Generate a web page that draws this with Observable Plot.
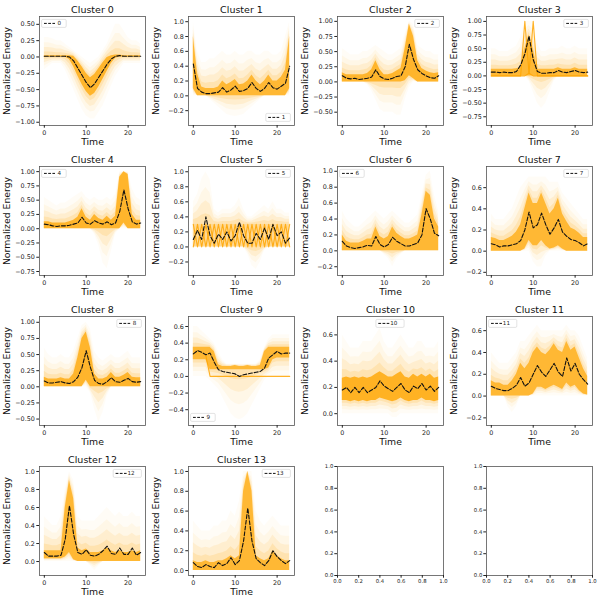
<!DOCTYPE html>
<html><head><meta charset="utf-8">
<script src="https://cdn.jsdelivr.net/npm/d3@7"></script>
<script src="https://cdn.jsdelivr.net/npm/@observablehq/plot@0.6"></script>
<style>
body{margin:0;background:#fff}
#wrap{position:relative;width:600px;height:597px;font-family:"DejaVu Sans",sans-serif}
#wrap svg{position:absolute;overflow:visible}
</style>
</head><body><div id="wrap"></div>
<script>
const times = [0,1,2,3,4,5,6,7,8,9,10,11,12,13,14,15,16,17,18,19,20,21,22,23];
const titles = ["Cluster 0","Cluster 1","Cluster 2","Cluster 3","Cluster 4","Cluster 5","Cluster 6","Cluster 7","Cluster 8","Cluster 9","Cluster 10","Cluster 11","Cluster 12","Cluster 13"];
const legendLabels = ["0","1","2","3","4","5","6","7","8","9","10","11","12","13"];
const legendPos = ["ul","lr","ur","ur","ul","ur","ul","ur","ur","ll","uc","ul","ur","ur"];
const yDomains = [[-1.05,0.62],[-0.4,1.07],[-0.72,1.08],[-0.91,1.09],[-0.82,1.09],[-0.38,1.07],[-0.31,1.06],[-0.23,0.80],[-0.60,1.09],[-0.59,0.72],[-0.09,0.74],[-0.27,0.73],[-0.155,1.055],[-0.05,1.05]];
const yTicks = [
 [-1,-0.75,-0.5,-0.25,0,0.25,0.5],
 [-0.2,0,0.2,0.4,0.6,0.8,1.0],
 [-0.5,-0.25,0,0.25,0.5,0.75,1],
 [-0.75,-0.5,-0.25,0,0.25,0.5,0.75,1],
 [-0.75,-0.5,-0.25,0,0.25,0.5,0.75,1],
 [-0.2,0,0.2,0.4,0.6,0.8,1.0],
 [-0.2,0,0.2,0.4,0.6,0.8,1.0],
 [-0.2,0,0.2,0.4,0.6],
 [-0.5,-0.25,0,0.25,0.5,0.75,1],
 [-0.4,-0.2,0,0.2,0.4,0.6],
 [0,0.2,0.4,0.6],
 [-0.2,0,0.2,0.4,0.6],
 [0,0.2,0.4,0.6,0.8,1.0],
 [0,0.2,0.4,0.6,0.8,1.0]
];
const tickDecimals = [2,1,2,2,2,1,1,1,2,1,1,1,1,1];
const xTicks = [0,10,20];
const emptyTicks = [0,0.2,0.4,0.6,0.8,1.0];

// cluster mean (black dashed)
const means = [
 [0.01,0.01,0.01,0.01,0.01,0.01,0.00,-0.06,-0.17,-0.28,-0.39,-0.47,-0.41,-0.31,-0.21,-0.11,-0.03,0.01,0.02,0.01,0.01,0.01,0.01,0.01],
 [0.43,0.10,0.05,0.03,0.03,0.04,0.05,0.11,0.05,0.08,0.13,0.06,0.07,0.10,0.18,0.10,0.06,0.10,0.18,0.11,0.09,0.13,0.17,0.40],
 [0.10,0.06,0.05,0.06,0.04,0.05,0.06,0.08,0.20,0.09,0.05,0.04,0.06,0.09,0.10,0.25,0.62,0.37,0.20,0.14,0.10,0.07,0.06,0.10],
 [0.07,0.07,0.06,0.07,0.06,0.06,0.08,0.20,0.40,0.73,0.30,0.08,0.05,0.05,0.06,0.06,0.10,0.07,0.06,0.08,0.10,0.07,0.06,0.07],
 [0.08,0.07,0.05,0.04,0.05,0.05,0.06,0.08,0.10,0.20,0.10,0.08,0.14,0.10,0.08,0.12,0.07,0.10,0.30,0.68,0.35,0.12,0.08,0.10],
 [0.10,0.22,0.10,0.40,0.15,0.05,0.17,0.10,0.20,0.08,0.15,0.33,0.15,0.05,0.05,0.18,0.10,0.25,0.10,0.30,0.15,0.20,0.05,0.12],
 [0.12,0.06,0.04,0.03,0.04,0.05,0.07,0.06,0.18,0.08,0.05,0.08,0.17,0.12,0.09,0.06,0.06,0.08,0.10,0.20,0.53,0.40,0.22,0.19],
 [0.07,0.06,0.04,0.05,0.05,0.06,0.07,0.10,0.20,0.37,0.22,0.25,0.36,0.25,0.16,0.22,0.30,0.18,0.14,0.11,0.10,0.08,0.05,0.07],
 [0.09,0.06,0.06,0.07,0.08,0.06,0.05,0.08,0.15,0.30,0.56,0.30,0.10,0.05,0.04,0.08,0.14,0.08,0.07,0.10,0.13,0.08,0.07,0.08],
 [0.27,0.31,0.29,0.26,0.28,0.17,0.08,0.06,0.05,0.04,0.03,0.00,0.02,0.03,0.04,0.05,0.06,0.10,0.22,0.26,0.30,0.27,0.28,0.28],
 [0.18,0.20,0.16,0.20,0.16,0.20,0.16,0.18,0.20,0.25,0.21,0.19,0.17,0.20,0.23,0.18,0.16,0.21,0.19,0.23,0.18,0.21,0.17,0.20],
 [0.09,0.07,0.06,0.05,0.05,0.07,0.10,0.17,0.09,0.12,0.20,0.28,0.22,0.18,0.24,0.30,0.22,0.18,0.35,0.23,0.30,0.20,0.15,0.11],
 [0.10,0.06,0.06,0.06,0.07,0.25,0.62,0.30,0.10,0.08,0.13,0.07,0.06,0.08,0.12,0.17,0.09,0.08,0.15,0.08,0.08,0.15,0.07,0.10],
 [0.08,0.04,0.03,0.06,0.04,0.03,0.08,0.05,0.07,0.13,0.06,0.10,0.30,0.63,0.30,0.12,0.08,0.05,0.10,0.20,0.14,0.10,0.07,0.10]
];
// dense core of member series (upper / lower edge)
const coreHi = [
 [0.02,0.02,0.02,0.02,0.02,0.02,0.02,0.01,-0.06,-0.15,-0.25,-0.32,-0.27,-0.18,-0.09,-0.01,0.02,0.03,0.03,0.02,0.02,0.02,0.02,0.02],
 [0.8,0.3,0.12,0.1,0.1,0.1,0.12,0.2,0.15,0.18,0.22,0.15,0.16,0.2,0.28,0.2,0.15,0.2,0.28,0.2,0.2,0.25,0.35,0.8],
 [0.15,0.12,0.12,0.12,0.12,0.12,0.14,0.2,0.35,0.2,0.12,0.12,0.14,0.18,0.22,0.55,0.95,0.75,0.35,0.22,0.18,0.15,0.14,0.15],
 [0.12,0.12,0.12,0.12,0.12,0.12,0.13,0.15,0.5,0.75,0.5,0.12,0.12,0.12,0.12,0.12,0.15,0.12,0.12,0.12,0.15,0.12,0.12,0.12],
 [0.12,0.12,0.1,0.1,0.1,0.1,0.12,0.15,0.2,0.35,0.2,0.15,0.25,0.18,0.15,0.22,0.15,0.22,0.9,1.0,0.95,0.25,0.15,0.15],
 [0.3,0.3,0.3,0.3,0.3,0.3,0.3,0.3,0.3,0.3,0.3,0.3,0.3,0.3,0.3,0.3,0.3,0.3,0.3,0.3,0.3,0.3,0.3,0.3],
 [0.2,0.12,0.1,0.1,0.1,0.12,0.15,0.15,0.3,0.18,0.15,0.18,0.3,0.22,0.18,0.15,0.15,0.17,0.2,0.45,0.75,0.7,0.4,0.3],
 [0.13,0.12,0.1,0.1,0.12,0.14,0.18,0.25,0.4,0.55,0.45,0.45,0.55,0.45,0.35,0.4,0.5,0.35,0.28,0.22,0.2,0.17,0.13,0.13],
 [0.15,0.12,0.12,0.12,0.14,0.12,0.12,0.2,0.45,0.75,0.85,0.6,0.2,0.12,0.12,0.15,0.22,0.15,0.15,0.18,0.22,0.15,0.14,0.14],
 [0.35,0.35,0.35,0.35,0.35,0.3,0.14,0.12,0.12,0.12,0.13,0.12,0.12,0.13,0.12,0.12,0.13,0.3,0.35,0.35,0.35,0.35,0.35,0.35],
 [0.27,0.28,0.27,0.28,0.27,0.28,0.27,0.28,0.3,0.32,0.3,0.28,0.28,0.3,0.32,0.28,0.27,0.3,0.28,0.3,0.28,0.3,0.27,0.28],
 [0.14,0.12,0.12,0.1,0.1,0.14,0.2,0.3,0.25,0.3,0.4,0.45,0.4,0.38,0.42,0.48,0.42,0.4,0.5,0.42,0.45,0.35,0.25,0.18],
 [0.12,0.12,0.12,0.12,0.12,0.6,0.9,0.7,0.15,0.12,0.14,0.1,0.1,0.1,0.12,0.15,0.12,0.1,0.12,0.1,0.1,0.12,0.1,0.12],
 [0.1,0.08,0.08,0.1,0.08,0.08,0.1,0.1,0.12,0.15,0.12,0.15,0.8,1.0,0.8,0.15,0.12,0.1,0.12,0.2,0.15,0.12,0.1,0.1]
];
const coreLo = [
 [0,0,0,0,0,0,-0.04,-0.15,-0.29,-0.42,-0.53,-0.6,-0.56,-0.46,-0.34,-0.22,-0.1,-0.02,0,0,0,0,0,0],
 [0.1,0,0,0,0,0,0,0,0,0,0,0,0,0,0,0,0,0,0,0,0,0,0,0.1],
 [0,0,0,0,0,0,0,0,0,0,0,0,0,0,0,0.02,0.1,0.05,0,0,0,0,0,0],
 [0,0,0,0,0,0,0,0,0,0,0,0,0,0,0,0,0,0,0,0,0,0,0,0],
 [0,0,0,0,0,0,0,0,0,0,0,0,0,0,0,0,0,0,0,0.1,0,0,0,0],
 [0,0,0,0,0,0,0,0,0,0,0,0,0,0,0,0,0,0,0,0,0,0,0,0],
 [0,0,0,0,0,0,0,0,0,0,0,0,0,0,0,0,0,0,0,0,0,0,0,0],
 [0,0,0,0,0,0,0,0,0.02,0.1,0.05,0.05,0.1,0.05,0.02,0.03,0.05,0.02,0,0,0,0,0,0],
 [0,0,0,0,0,0,0,0,0,0,0.1,0,0,0,0,0,0,0,0,0,0,0,0,0],
 [0.2,0.2,0.2,0.2,0.08,0.08,0.08,0.08,0.08,0.08,0.08,0.08,0.08,0.08,0.08,0.08,0.08,0.08,0.1,0.2,0.22,0.22,0.22,0.22],
 [0.1,0.1,0.09,0.1,0.09,0.1,0.09,0.1,0.1,0.12,0.11,0.1,0.09,0.1,0.12,0.1,0.09,0.1,0.1,0.12,0.1,0.1,0.09,0.1],
 [0,0,0,0,0,0,0,0,0,0,0.02,0.08,0.08,0.06,0.08,0.1,0.08,0.06,0.12,0.08,0.1,0.05,0.02,0.01],
 [0.03,0.03,0.03,0.03,0.03,0.05,0.1,0.02,0,0,0,0,0,0,0,0,0,0,0,0,0,0,0,0],
 [0,0,0,0,0,0,0,0,0,0,0,0,0,0,0,0,0,0,0,0,0,0,0,0]
];
// faint outer envelope of member series
const faintHi = [
 [0.3,0.3,0.28,0.25,0.25,0.2,0.15,0.1,0.05,0.0,-0.05,-0.1,-0.05,0.0,0.1,0.2,0.35,0.5,0.5,0.4,0.3,0.25,0.25,0.2],
 [1.0,0.6,0.45,0.45,0.5,0.5,0.55,0.6,0.55,0.55,0.6,0.55,0.55,0.6,0.6,0.55,0.55,0.6,0.6,0.55,0.55,0.6,0.8,1.0],
 [0.55,0.5,0.45,0.45,0.45,0.5,0.5,0.55,0.6,0.55,0.5,0.45,0.45,0.5,0.55,0.8,1.0,0.95,0.6,0.55,0.5,0.5,0.45,0.45],
 [0.5,0.5,0.45,0.45,0.45,0.5,0.55,0.7,1.0,1.0,1.0,0.6,0.45,0.45,0.5,0.5,0.5,0.55,0.5,0.5,0.55,0.5,0.5,0.5],
 [0.55,0.5,0.45,0.4,0.45,0.45,0.5,0.55,0.6,0.65,0.55,0.5,0.55,0.5,0.5,0.55,0.5,0.6,1.0,1.0,1.0,0.7,0.55,0.5],
 [0.6,0.7,0.9,1.0,0.9,0.5,0.45,0.5,0.5,0.5,0.55,0.65,0.5,0.4,0.4,0.45,0.5,0.55,0.5,0.6,0.5,0.5,0.45,0.45],
 [0.5,0.4,0.35,0.3,0.3,0.35,0.4,0.45,0.5,0.45,0.4,0.45,0.5,0.45,0.4,0.35,0.35,0.4,0.45,0.7,0.95,1.0,0.7,0.5],
 [0.35,0.3,0.3,0.3,0.35,0.4,0.5,0.6,0.65,0.7,0.7,0.7,0.7,0.7,0.65,0.65,0.65,0.55,0.5,0.45,0.4,0.35,0.3,0.3],
 [0.6,0.5,0.45,0.45,0.5,0.45,0.45,0.55,0.75,0.95,1.0,0.9,0.55,0.45,0.4,0.45,0.5,0.45,0.45,0.5,0.55,0.45,0.45,0.45],
 [0.6,0.6,0.55,0.5,0.45,0.4,0.3,0.2,0.15,0.15,0.15,0.15,0.15,0.15,0.15,0.15,0.2,0.35,0.45,0.5,0.5,0.5,0.5,0.5],
 [0.6,0.55,0.5,0.5,0.5,0.55,0.55,0.55,0.6,0.65,0.55,0.5,0.5,0.55,0.6,0.55,0.5,0.5,0.55,0.55,0.5,0.5,0.5,0.55],
 [0.4,0.35,0.3,0.3,0.3,0.35,0.4,0.5,0.5,0.55,0.6,0.65,0.6,0.6,0.6,0.6,0.6,0.6,0.65,0.6,0.6,0.55,0.45,0.35],
 [0.5,0.45,0.4,0.4,0.5,0.8,1.0,0.9,0.5,0.45,0.45,0.45,0.45,0.5,0.55,0.6,0.55,0.5,0.55,0.5,0.5,0.55,0.5,0.5],
 [0.5,0.45,0.4,0.4,0.4,0.45,0.45,0.5,0.5,0.6,0.55,0.7,1.0,1.0,1.0,0.6,0.5,0.45,0.5,0.55,0.5,0.45,0.45,0.45]
];
const faintLo = [
 [-0.2,-0.15,-0.1,-0.1,-0.1,-0.2,-0.35,-0.5,-0.65,-0.8,-0.9,-0.95,-0.95,-0.85,-0.75,-0.6,-0.45,-0.3,-0.2,-0.1,-0.1,-0.1,-0.1,-0.1],
 [0,0,0,0,-0.05,-0.1,-0.15,-0.2,-0.25,-0.27,-0.28,-0.27,-0.25,-0.2,-0.15,-0.1,-0.05,0,0,0,0,0,0,0],
 [0,0,0,0,0,0,-0.05,-0.15,-0.3,-0.45,-0.5,-0.5,-0.5,-0.55,-0.55,-0.3,-0.1,0,0,0,0,0,0,0],
 [0,0,0,0,0,0,0,0,0,-0.1,-0.3,-0.5,-0.6,-0.5,-0.3,-0.1,0,0,0,0,0,0,0,0],
 [0,0,0,0,0,0,0,0,0,0,0,0,-0.1,-0.3,-0.6,-0.7,-0.4,-0.1,0,0,0,0,0,0],
 [0,0,0,0,0,0,0,0,0,0,0,0,0,-0.1,-0.25,-0.3,-0.2,-0.05,0,0,0,0,0,0],
 [0,0,0,0,0,0,0,0,0,0,-0.05,-0.1,-0.2,-0.1,-0.05,0,0,0,0,0,0,0,0,0],
 [0,0,0,0,0,0,0,0,0,0,-0.1,-0.15,-0.15,-0.05,0,0,0,0,0,0,0,0,0,0],
 [0,0,0,0,0,0,0,0,0,0,0,-0.1,-0.35,-0.55,-0.4,-0.15,0,0,0,0,0,0,0,0],
 [0,0,0,0,-0.05,-0.1,-0.15,-0.25,-0.35,-0.45,-0.5,-0.52,-0.5,-0.45,-0.35,-0.25,-0.15,-0.05,0,0,0,0,0,0],
 [0,0,0,0,0,0,0,0,0,0,0,0,-0.03,-0.03,0,0,0,0,0,0,0,0,0,0],
 [0,0,0,0,-0.1,-0.15,-0.1,0,0,0,0,0,0,0,0,0,0,0,0,0,0,0,0,0],
 [0,0,0,0,0,0,0,0,0,0,0,-0.05,-0.1,-0.05,0,0,0,0,0,0,0,0,0,0],
 [0,0,0,0,0,0,0,0,0,0,0,0,0,0,0,0,0,0,0,0,0,0,0,0]
];
const coreOpacity = [0.75,0.7,0.75,0.7,0.75,0.16,0.7,0.7,0.75,0.7,0.8,0.7,0.7,0.7];
// distinct member lines visible in the picture
const spike3a = [0,0,0,0,0,0,0,0,1.0,0.05,0,0,0,0,0,0,0,0,0,0,0,0,0,0];
const spike3b = [0,0,0,0,0,0,0,0,0,0.05,1.0,0,0,0,0,0,0,0,0,0,0,0,0,0];
const zig5a = [0,0.3,0,0.3,0,0.3,0,0.3,0,0.3,0,0.3,0,0.3,0,0.3,0,0.3,0,0.3,0,0.3,0,0.3];
const zig5b = [0.3,0,0.3,0,0.3,0,0.3,0,0.3,0,0.3,0,0.3,0,0.3,0,0.3,0,0.3,0,0.3,0,0.3,0];
const flat9 = [null,null,null,0.25,0,0,0,0,0,0,0,0,0,0,0,0,0,0,0,0,0,0,0,0];
const extraLines = {3:[spike3a,spike3b], 5:[zig5a,zig5b], 9:[flat9]};

// rendering style: soft halo between the dense core and the faint envelope
const haloSteps = [1, 0.7, 0.45, 0.2];
const haloOpacity = [0.035, 0.06, 0.1, 0.15];

const W = 149, H = 150, ML = 39, MT = 16, MR = 4, MB = 25;
const wrap = document.getElementById("wrap");
const FONT = "DejaVu Sans";

function addLegend(svg, k) {
  const label = legendLabels[k];
  const w = 18.5 + label.length * 3.6 + 2.5, h = 8;
  const x0 = ML, x1 = W - MR, y0 = MT, y1 = H - MB;
  const p = legendPos[k];
  let bx, by;
  if (p[1] === "l") bx = x0 + 2.6; else if (p[1] === "r") bx = x1 - 3.6 - w; else bx = (x0 + x1) / 2 - w / 2;
  if (p[0] === "u") by = y0 + 3.4; else by = y1 - 3.6 - h;
  const g = d3.select(svg).append("g");
  g.append("rect").attr("x", bx).attr("y", by).attr("width", w).attr("height", h).attr("rx", 1.3)
    .attr("fill", "#fff").attr("fill-opacity", 0.8).attr("stroke", "#d0d0d0").attr("stroke-width", 0.6);
  g.append("line").attr("x1", bx + 2.4).attr("x2", bx + 13.4).attr("y1", by + h / 2).attr("y2", by + h / 2)
    .attr("stroke", "#111").attr("stroke-width", 1).attr("stroke-dasharray", "2.8,1.4");
  g.append("text").attr("x", bx + 17.8).attr("y", by + h / 2).attr("dy", "0.35em")
    .attr("font-size", 5.6).attr("font-family", FONT).attr("fill", "#222").text(label);
}

for (let k = 0; k < 16; k++) {
  const col = k % 4, row = Math.floor(k / 4);
  let svg;
  if (k < 14) {
    const rows = times.map((t, i) => ({t, m: means[k][i], clo: coreLo[k][i], chi: Math.max(coreHi[k][i], coreLo[k][i]), flo: faintLo[k][i], fhi: faintHi[k][i]}));
    const halos = haloSteps.map((f, j) => Plot.areaY(rows, {
      x: "t", y1: d => d.clo + f * (Math.min(d.flo, d.clo) - d.clo), y2: d => d.chi + f * (Math.max(d.fhi, d.chi) - d.chi),
      fill: "#ffa500", fillOpacity: haloOpacity[j], clip: true}));
    const extras = (extraLines[k] || []).map(arr =>
      Plot.line(times.map((t, i) => ({t, v: arr[i]})), {x: "t", y: "v", stroke: "#ffa500", strokeOpacity: 0.85, strokeWidth: 1.1, clip: true, defined: d => d.v != null}));
    const fmt = d3.format(`.${tickDecimals[k]}f`);
    svg = Plot.plot({
      width: W, height: H, marginLeft: ML, marginTop: MT, marginRight: MR, marginBottom: MB,
      style: {fontFamily: FONT, background: "transparent", color: "#222", overflow: "visible"},
      x: {domain: [-1.15, 24.15]},
      y: {domain: yDomains[k]},
      marks: [
        ...halos,
        Plot.areaY(rows, {x: "t", y1: "clo", y2: "chi", fill: "#ffa500", fillOpacity: coreOpacity[k], clip: true}),
        ...extras,
        Plot.line(rows, {x: "t", y: "m", stroke: "#111", strokeWidth: 1.1, strokeDasharray: "4,1.8"}),
        Plot.frame({stroke: "#555", strokeWidth: 0.8}),
        Plot.axisX({ticks: xTicks, tickSize: 2.7, tickPadding: 2, fontSize: 6.4, label: null}),
        Plot.axisY({ticks: yTicks[k], tickSize: 2.7, tickPadding: 2, fontSize: 6.4, label: null, tickFormat: fmt}),
        Plot.text([titles[k]], {frameAnchor: "top", dy: -6.6, fontSize: 9.5, text: d => d, lineAnchor: "middle", textAnchor: "middle", fill: "#111"}),
        Plot.text(["Time"], {frameAnchor: "bottom", dy: 16.4, fontSize: 9.3, text: d => d, lineAnchor: "middle", textAnchor: "middle", fill: "#111"}),
        Plot.text(["Normalized Energy"], {frameAnchor: "left", dx: -32, rotate: -90, fontSize: 9.3, text: d => d, lineAnchor: "middle", textAnchor: "middle", fill: "#111"})
      ]
    });
    addLegend(svg, k);
  } else {
    const fmt = d3.format(".1f");
    svg = Plot.plot({
      width: W, height: H, marginLeft: ML, marginTop: MT, marginRight: MR, marginBottom: MB,
      style: {fontFamily: FONT, background: "transparent", color: "#222", overflow: "visible"},
      x: {domain: [0, 1]},
      y: {domain: [0, 1]},
      marks: [
        Plot.frame({stroke: "#555", strokeWidth: 0.8}),
        Plot.axisX({ticks: emptyTicks, tickSize: 2.7, tickPadding: 1.5, fontSize: 5.3, label: null, tickFormat: fmt}),
        Plot.axisY({ticks: emptyTicks, tickSize: 2.7, tickPadding: 1.5, fontSize: 5.3, label: null, tickFormat: fmt})
      ]
    });
  }
  svg.style.left = (col * W) + "px";
  svg.style.top = (row * H) + "px";
  wrap.append(svg);
}
</script>
</body></html>
